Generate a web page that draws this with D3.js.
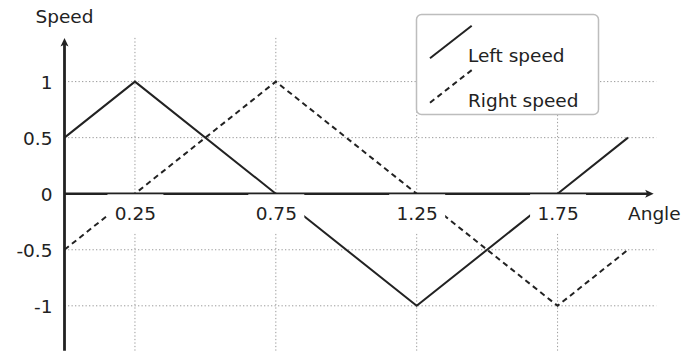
<!DOCTYPE html>
<html><head><meta charset="utf-8">
<script src="https://cdn.jsdelivr.net/npm/d3@7"></script>
<style>html,body{margin:0;padding:0;background:#fff;}svg{display:block;}</style>
</head><body>
<script>
const angles = [0, 0.25, 0.75, 1.25, 1.75, 2];
const leftSpeed = [0.5, 1, 0, -1, 0, 0.5];
const rightSpeed = [-0.5, 0, 1, 0, -1, -0.5];
const xTicks = [0.25, 0.75, 1.25, 1.75];
const yTicks = [1, 0.5, 0, -0.5, -1];
const gridY = [1, 0.5, -0.5, -1];
const seriesNames = ["Left speed", "Right speed"];

const W = 700, H = 353;
const FONT = "'DejaVu Sans', sans-serif";
const ink = "#222";
const svg = d3.select("body").append("svg").attr("width", W).attr("height", H);

const x = d3.scaleLinear().domain([0, 2]).range([64.5, 628]);
const y = d3.scaleLinear().domain([-1, 1]).range([305.8, 81.6]);
const xMax = 2.1, yMin = -1.4, yMax = 1.39;

// grid
const g = svg.append("g").attr("stroke", "#9a9a9a").attr("stroke-width", 1).attr("stroke-dasharray", "1.3,2.2");
gridY.forEach(v => g.append("line").attr("x1", x(0)).attr("x2", x(xMax)).attr("y1", y(v)).attr("y2", y(v)));
xTicks.forEach(v => g.append("line").attr("x1", x(v)).attr("x2", x(v)).attr("y1", y(yMax)).attr("y2", y(yMin)));

// axes lines
const xt = x(xMax) - 2.5, yt = y(0);
const ax = x(0), ay = y(yMax);
svg.append("line").attr("x1", x(0)).attr("x2", xt - 5).attr("y1", yt).attr("y2", yt)
  .attr("stroke", ink).attr("stroke-width", 2.6);
svg.append("line").attr("x1", ax).attr("x2", ax).attr("y1", y(yMin)).attr("y2", ay + 5)
  .attr("stroke", ink).attr("stroke-width", 2.8);
// arrowheads
svg.append("path").attr("d", `M${xt},${yt} L${xt-8.5},${yt-4} L${xt-6.5},${yt} L${xt-8.5},${yt+4} Z`).attr("fill", ink);
svg.append("path").attr("d", `M${ax},${ay} L${ax-4},${ay+8.5} L${ax},${ay+6.5} L${ax+4},${ay+8.5} Z`).attr("fill", ink);

// data lines
const line = d3.line().x((d, i) => x(angles[i])).y(d => y(d));
svg.append("path").datum(leftSpeed).attr("d", line).attr("fill", "none").attr("stroke", ink).attr("stroke-width", 2);
svg.append("path").datum(rightSpeed).attr("d", line).attr("fill", "none").attr("stroke", ink).attr("stroke-width", 2).attr("stroke-dasharray", "5.5,4");

// x tick labels with white boxes
const xAxis = svg.append("g").attr("transform", `translate(0,${y(0)})`)
  .call(d3.axisBottom(x).tickValues(xTicks).tickSize(0).tickFormat(d => String(d)));
xAxis.select(".domain").remove();
xAxis.selectAll(".tick").insert("rect", "text").attr("x", -28).attr("width", 56).attr("y", 0.6).attr("height", 39).attr("fill", "#fff");
xAxis.selectAll(".tick text").attr("y", 0).attr("dy", 0).attr("transform", "translate(0,26)")
  .attr("font-family", FONT).attr("font-size", 18.5).attr("fill", ink);

// y tick labels
const yAxis = svg.append("g").attr("transform", `translate(${x(0)},0)`)
  .call(d3.axisLeft(y).tickValues(yTicks).tickSize(0).tickPadding(12).tickFormat(d => String(d).replace("−", "-")));
yAxis.select(".domain").remove();
yAxis.selectAll(".tick text").attr("font-family", FONT).attr("font-size", 18.5).attr("fill", ink).attr("dy", "0.36em");

// axis titles
svg.append("text").attr("x", x(0)).attr("y", 23).attr("text-anchor", "middle")
  .attr("font-family", FONT).attr("font-size", 18.5).attr("fill", ink).text("Speed");
svg.append("text").attr("x", 628).attr("y", y(0) + 26)
  .attr("font-family", FONT).attr("font-size", 18.5).attr("fill", ink).text("Angle");

// legend
const lg = svg.append("g");
lg.append("rect").attr("x", 416.5).attr("y", 14.5).attr("width", 182).attr("height", 100).attr("rx", 5)
  .attr("fill", "#fff").attr("stroke", "#bdbdbd").attr("stroke-width", 1.5);
const legY = [58.3, 102.7];
seriesNames.forEach((name, i) => {
  lg.append("line").attr("x1", 430).attr("y1", legY[i]).attr("x2", 471.7).attr("y2", legY[i] - 32.6)
    .attr("stroke", ink).attr("stroke-width", 2).attr("stroke-dasharray", i === 1 ? "5.5,4" : null);
  lg.append("text").attr("x", 468).attr("y", legY[i] + 3.7 + (i === 1 ? 1 : 0))
    .attr("font-family", FONT).attr("font-size", 18.5).attr("fill", ink).text(name);
});
</script>
</body></html>
